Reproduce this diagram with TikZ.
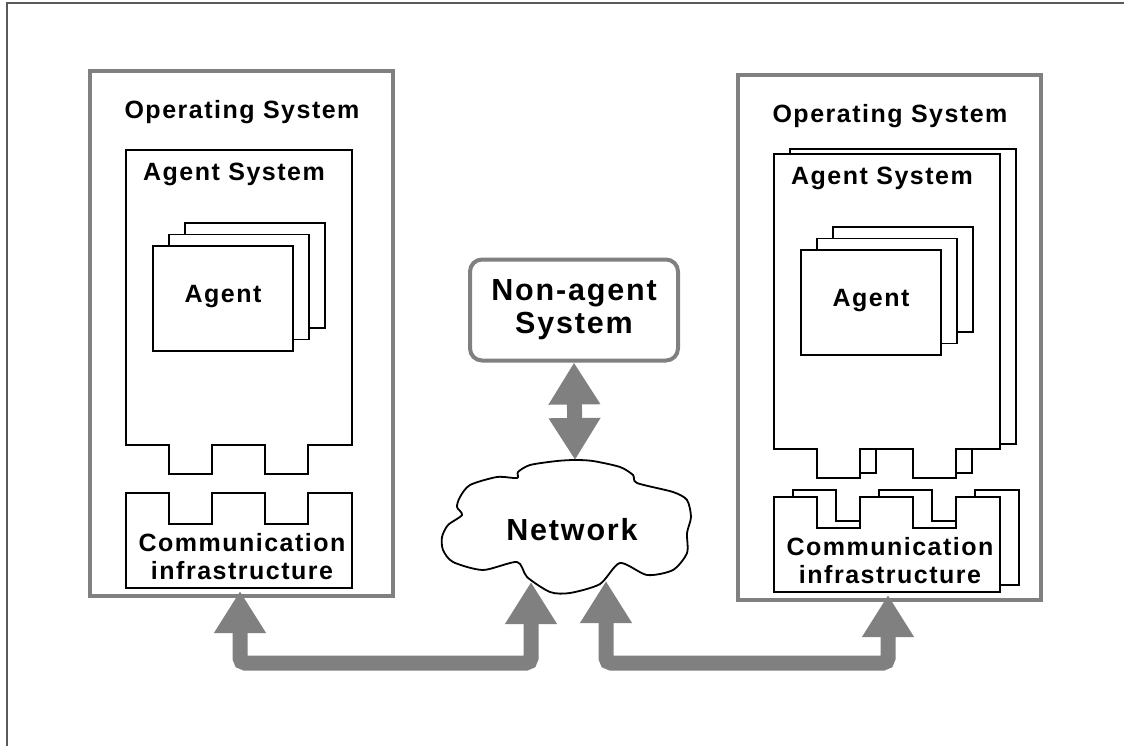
\documentclass[tikz,border=0pt]{standalone}
\usepackage{fontspec}
\setmainfont{Liberation Sans}
\newfontfamily\boxfont{Liberation Sans}[LetterSpace=6]
\usetikzlibrary{arrows.meta,positioning}

\tikzset{
  agentsys/.pic={\draw[blackline] (0,0) -- (226,0) -- (226,295) -- (182,295) -- (182,324) -- (139,324) -- (139,295) -- (86,295) -- (86,324) -- (43,324) -- (43,295) -- (0,295) -- cycle;},
  commbox/.pic={\draw[blackline] (0,0) -- (43,0) -- (43,31) -- (86,31) -- (86,0) -- (139,0) -- (139,31) -- (182,31) -- (182,0) -- (226,0) -- (226,95) -- (0,95) -- cycle;},
  card/.pic={\draw[blackline] (0,0) rectangle (140,105);}
}

\begin{document}
\begin{tikzpicture}[x=1pt,y=-1pt,
    blackline/.style={draw=black,line width=1.8pt,fill=white},
    osbox/.style={draw=black!50,line width=4pt,minimum width=303pt,minimum height=525pt,inner sep=0pt},
    title/.style={font=\boxfont\bfseries\fontsize{25}{28}\selectfont,inner sep=0pt,align=center},
    big/.style={font=\boxfont\bfseries\fontsize{30.5}{33}\selectfont,align=center},
    fatarrow/.style={draw=black!50,line width=15pt,rounded corners=5pt,{Triangle[width=49pt,length=42pt]}-{Triangle[width=49pt,length=42pt]}}]
\useasboundingbox (0,0) rectangle (1124,746);
\draw[black!65,line width=1.5pt] (7,746) -- (7,3) -- (1124,3);

% copies behind the right agent system
\pic at (790,149) {agentsys};
\pic at (793,490) {commbox};

\foreach \s/\dx/\dy in {l/0/0,r/648/4}{
  \begin{scope}[shift={(\dx,\dy)}]
    \node[osbox] (os\s) at (241.5,333.5) {};
    \node[title] (ostitle\s) at (242,112) {Operating System};
    \pic at (126,150) {agentsys};
    \node[title] (astitle\s) at (234,174) {Agent System};
    \foreach \k in {2,1,0}
      \pic at (153+16*\k,246-11.5*\k) {card};
    \node[title] (agent\s) at (223,297) {Agent};
    \pic at (126,493) {commbox};
    \node[title] (comm\s) at (242,557) {Communication\\infrastructure};
    \coordinate (commfoot\s) at (240,591);
  \end{scope}
}

\node[draw=black!50,line width=4pt,rounded corners=12pt,minimum width=208pt,minimum height=101pt,big] (nonagent) at (574,310) {Non-agent\\System};

\draw[line width=1.8pt,fill=white] plot[smooth cycle,tension=0.45] coordinates {
  (575,460) (593,461) (620,467) (633,475) (637,483) (673,492) (687,500) (691,517)
  (687,533) (687,553) (673,570) (647,575) (620,563) (600,584) (570,593) (550,592)
  (527,577) (517,562) (483,570) (453,562) (443,550) (442,537) (448,525) (462,515)
  (457,507) (460,497) (470,485) (497,477) (517,478) (518,472) (530,465) (557,461)};
\node[big] (network) at (572,530) {Network};
\coordinate (nettop) at (575,460);
\coordinate (netleft) at (531,582);
\coordinate (netright) at (606,581);

\draw[fatarrow] (nonagent.south) -- (nettop);
\draw[fatarrow] (commfootl) -- ++(0,72) -| (netleft);
\draw[fatarrow] (netright) -- ++(0,82) -| (commfootr);
\end{tikzpicture}
\end{document}
